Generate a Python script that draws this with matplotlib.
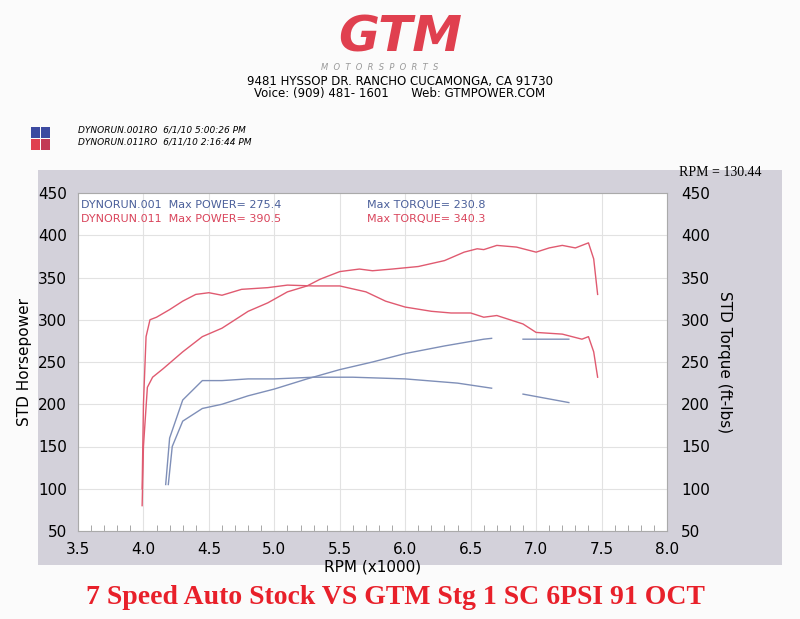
import numpy as np
import matplotlib
matplotlib.use("Agg")
import matplotlib.pyplot as plt
from matplotlib.patches import Rectangle

nan = np.nan
rpm_hp011 = [3.99, 4.0, 4.03, 4.07, 4.15, 4.3, 4.45, 4.6, 4.7, 4.8, 4.95, 5.1, 5.25, 5.35, 5.5, 5.65, 5.75, 5.9, 6.1, 6.3, 6.45, 6.55, 6.6, 6.7, 6.85, 7.0, 7.1, 7.2, 7.3, 7.4, 7.44, 7.47]
hp011 = [80, 150, 220, 232, 242, 262, 280, 290, 300, 310, 320, 333, 340, 348, 357, 360, 358, 360, 363, 370, 380, 384, 383, 388, 386, 380, 385, 388, 385, 391, 372, 330]
rpm_tq011 = [3.99, 4.0, 4.02, 4.05, 4.1, 4.2, 4.3, 4.4, 4.5, 4.6, 4.75, 4.95, 5.1, 5.3, 5.5, 5.7, 5.85, 6.0, 6.2, 6.35, 6.5, 6.6, 6.7, 6.9, 7.0, 7.2, 7.35, 7.4, 7.44, 7.47]
tq011 = [100, 200, 280, 300, 303, 312, 322, 330, 332, 329, 336, 338, 341, 340, 340, 333, 322, 315, 310, 308, 308, 303, 305, 295, 285, 283, 277, 280, 262, 232]
rpm_hp001 = [4.19, 4.22, 4.3, 4.45, 4.6, 4.8, 5.0, 5.25, 5.5, 5.75, 6.0, 6.3, 6.6, 6.66, 6.75, 6.9, 7.25]
hp001 = [105, 150, 180, 195, 200, 210, 218, 230, 241, 250, 260, 269, 277, 278, nan, 277, 277]
rpm_tq001 = [4.17, 4.2, 4.3, 4.45, 4.6, 4.8, 5.0, 5.3, 5.6, 6.0, 6.4, 6.66, 6.75, 6.9, 7.25]
tq001 = [105, 160, 205, 228, 228, 230, 230, 232, 232, 230, 225, 219, nan, 212, 202]

xticks = [3.5, 4.0, 4.5, 5.0, 5.5, 6.0, 6.5, 7.0, 7.5, 8.0]
yticks = [50, 100, 150, 200, 250, 300, 350, 400, 450]

red = '#e05a70'
blue = '#7f8fb8'

fig = plt.figure(figsize=(8, 6.19), dpi=100)
fig.patch.set_facecolor('#fbfbfb')
W, H = 800, 619
def fx(px): return px / W
def fy(py): return 1 - py / H

bg = fig.add_axes([fx(38), fy(565), fx(782) - fx(38), fy(170) - fy(565)], zorder=-5)
bg.set_facecolor('#d3d1da')
bg.set_xticks([]); bg.set_yticks([])
for s in bg.spines.values():
    s.set_visible(False)

ax = fig.add_axes([fx(78), fy(531), fx(667) - fx(78), fy(193) - fy(531)])
ax.set_facecolor('white')
ax.set_xlim(3.5, 8.0)
ax.set_ylim(50, 450)
ax.set_xticks(xticks)
ax.set_xticklabels([f"{v:.1f}" for v in xticks])
ax.set_yticks(yticks)
ax.set_xticks(np.arange(3.5, 8.01, 0.1), minor=True)
ax.grid(True, which='major', color='#e2e2e2', lw=0.8)
ax.tick_params(axis='both', which='major', labelsize=11, length=0, pad=8)
ax.tick_params(axis='x', which='minor', length=4, direction='in', color='#999999')
for s in ax.spines.values():
    s.set_color('#aaaaaa')
ax.set_xlabel('RPM (x1000)', fontsize=11, labelpad=2)
ax.set_ylabel('STD Horsepower', fontsize=11)
ax2 = ax.twinx()
ax2.set_ylim(50, 450)
ax2.set_yticks(yticks)
ax2.tick_params(axis='y', labelsize=11, length=0, pad=10)
ax2.set_ylabel('STD Torque (ft-lbs)', fontsize=11, rotation=270, labelpad=16)
for s in ax2.spines.values():
    s.set_visible(False)

ax.plot(rpm_hp011, hp011, color=red, lw=1)
ax.plot(rpm_tq011, tq011, color=red, lw=1)
ax.plot(rpm_hp001, hp001, color=blue, lw=1)
ax.plot(rpm_tq001, tq001, color=blue, lw=1)

ax.text(0.005, 0.955, 'DYNORUN.001  Max POWER= 275.4', transform=ax.transAxes, color='#4a5f9a', fontsize=8)
ax.text(0.005, 0.915, 'DYNORUN.011  Max POWER= 390.5', transform=ax.transAxes, color='#d9455c', fontsize=8)
ax.text(0.49, 0.955, 'Max TORQUE= 230.8', transform=ax.transAxes, color='#4a5f9a', fontsize=8)
ax.text(0.49, 0.915, 'Max TORQUE= 340.3', transform=ax.transAxes, color='#d9455c', fontsize=8)
fig.text(fx(720), fy(172), 'RPM = 130.44', family='Liberation Serif', fontsize=10, ha='center', va='center')

fig.text(fx(400), fy(37), 'GTM', color='#e0404f', fontsize=36, fontweight='bold', style='italic', ha='center', va='center')
fig.text(fx(380), fy(67), 'M  O  T  O  R  S  P  O  R  T  S', color='#999999', fontsize=6, style='italic', ha='center', va='center')
fig.text(fx(400), fy(82), '9481 HYSSOP DR. RANCHO CUCAMONGA, CA 91730', fontsize=8.5, ha='center', va='center')
fig.text(fx(400), fy(94), 'Voice: (909) 481- 1601      Web: GTMPOWER.COM', fontsize=8.5, ha='center', va='center')
for i, (c1, c2) in enumerate([('#3c4aa0', '#e0404f'), ('#3c4aa0', '#c23a55')]):
    fig.patches.append(Rectangle((fx(31 + i * 10), fy(138)), fx(9), fy(127) - fy(138), transform=fig.transFigure, facecolor=c1))
    fig.patches.append(Rectangle((fx(31 + i * 10), fy(150)), fx(9), fy(139) - fy(150), transform=fig.transFigure, facecolor=c2))
fig.text(fx(78), fy(130), 'DYNORUN.001RO  6/1/10 5:00:26 PM', fontsize=6.5, style='italic', va='center')
fig.text(fx(78), fy(142), 'DYNORUN.011RO  6/11/10 2:16:44 PM', fontsize=6.5, style='italic', va='center')

fig.text(fx(395), fy(597), '7 Speed Auto Stock VS GTM Stg 1 SC 6PSI 91 OCT', color='#e8202a',
         family='Liberation Serif', fontsize=20, fontweight='bold', ha='center', va='center')

fig.savefig('out.png', dpi=100, facecolor=fig.get_facecolor())
